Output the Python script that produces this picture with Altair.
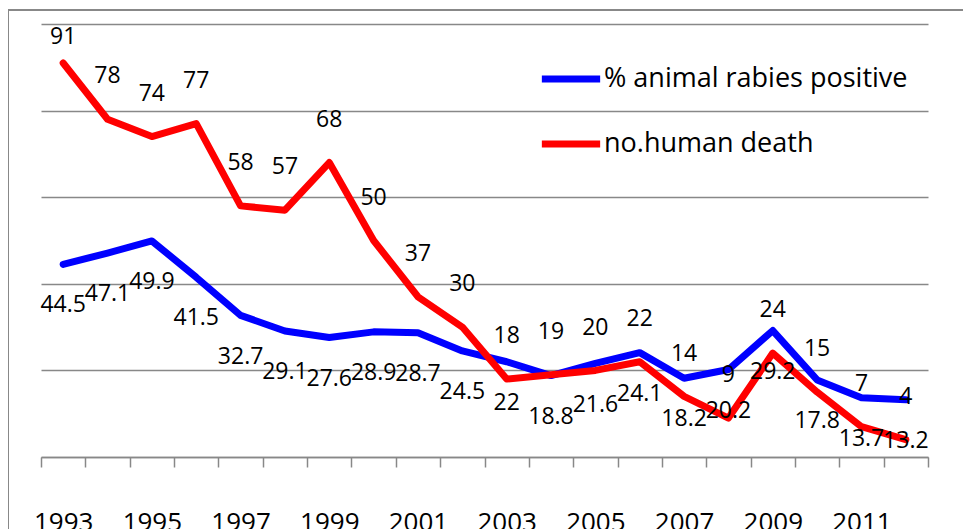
import altair as alt
import pandas as pd

years = [str(y) for y in range(1993, 2013)]
animal = [44.5, 47.1, 49.9, 41.5, 32.7, 29.1, 27.6, 28.9, 28.7, 24.5,
          22, 18.8, 21.6, 24.1, 18.2, 20.2, 29.2, 17.8, 13.7, 13.2]
human = [91, 78, 74, 77, 58, 57, 68, 50, 37, 30,
         18, 19, 20, 22, 14, 9, 24, 15, 7, 4]
series_names = ["% animal rabies positive", "no.human death"]
series_colors = ["#0000FF", "#FF0000"]

rows = []
for y, a, h in zip(years, animal, human):
    rows.append({"year": y, "series": series_names[0], "value": a})
    rows.append({"year": y, "series": series_names[1], "value": h})
df = pd.DataFrame(rows)

FONT = "Open Sans"
W, H = 887, 433

xenc = alt.X("year:O", scale=alt.Scale(type="band", paddingInner=0, paddingOuter=0),
             axis=alt.Axis(tickBand="extent", labelAngle=0, title=None,
                           labelExpr="parseInt(datum.label) % 2 == 1 ? datum.label : ''",
                           domainColor="#888888", domainWidth=1.5,
                           tickColor="#888888", tickWidth=1.5, tickSize=10,
                           labelFontSize=26, labelPadding=42, labelColor="black",
                           labelFont=FONT, grid=False))
yscale = alt.Scale(domain=[0, 100])
yaxis = alt.Axis(values=[0, 20, 40, 60, 80, 100], labels=False, ticks=False,
                 domain=False, title=None, grid=True, gridColor="#888888", gridWidth=1.5)

color = alt.Color("series:N", scale=alt.Scale(domain=series_names, range=series_colors),
                  legend=alt.Legend(title=None, orient="none", legendX=497, legendY=22,
                                    symbolType="stroke", symbolStrokeWidth=7,
                                    symbolSize=3400, labelFontSize=27, labelFont=FONT,
                                    labelColor="black", labelOffset=0, rowPadding=18,
                                    labelLimit=400))

lines = alt.Chart(df).mark_line(strokeWidth=7, strokeJoin="round", strokeCap="round").encode(
    x=xenc, y=alt.Y("value:Q", scale=yscale, axis=yaxis), color=color,
    order=alt.Order("year:O"))

red_text = alt.Chart(df).transform_filter(
    alt.datum.series == series_names[1]
).transform_calculate(
    ly="min(datum.value + 9.9, 96.9)", lab="format(datum.value, '.1~f')"
).mark_text(fontSize=23, font=FONT, color="black", baseline="middle").encode(
    x=alt.X("year:O"), y=alt.Y("ly:Q", scale=yscale, axis=yaxis), text="lab:N")

blue_text = alt.Chart(df).transform_filter(
    alt.datum.series == series_names[0]
).transform_calculate(
    ly="datum.value - 9.5", lab="format(datum.value, '.1~f')"
).mark_text(fontSize=23, font=FONT, color="black", baseline="middle").encode(
    x=alt.X("year:O"), y=alt.Y("ly:Q", scale=yscale, axis=yaxis), text="lab:N")

frame_top = alt.Chart(df).mark_rule(color="#888888", strokeWidth=2).encode(
    x=alt.value(-33), x2=alt.value(W + 60), y=alt.value(-14))
frame_left = alt.Chart(df).mark_rule(color="#888888", strokeWidth=2).encode(
    x=alt.value(-33), y=alt.value(-14), y2=alt.value(H + 120))

chart = alt.layer(frame_top, frame_left, lines, red_text, blue_text).properties(
    width=W, height=H,
    autosize=alt.AutoSizeParams(type="none"),
    padding={"left": 33, "top": 16, "right": 35, "bottom": 80},
    background="white",
).configure_view(stroke=None)

chart.save("out.html", embed_options={"renderer": "svg", "actions": False})
